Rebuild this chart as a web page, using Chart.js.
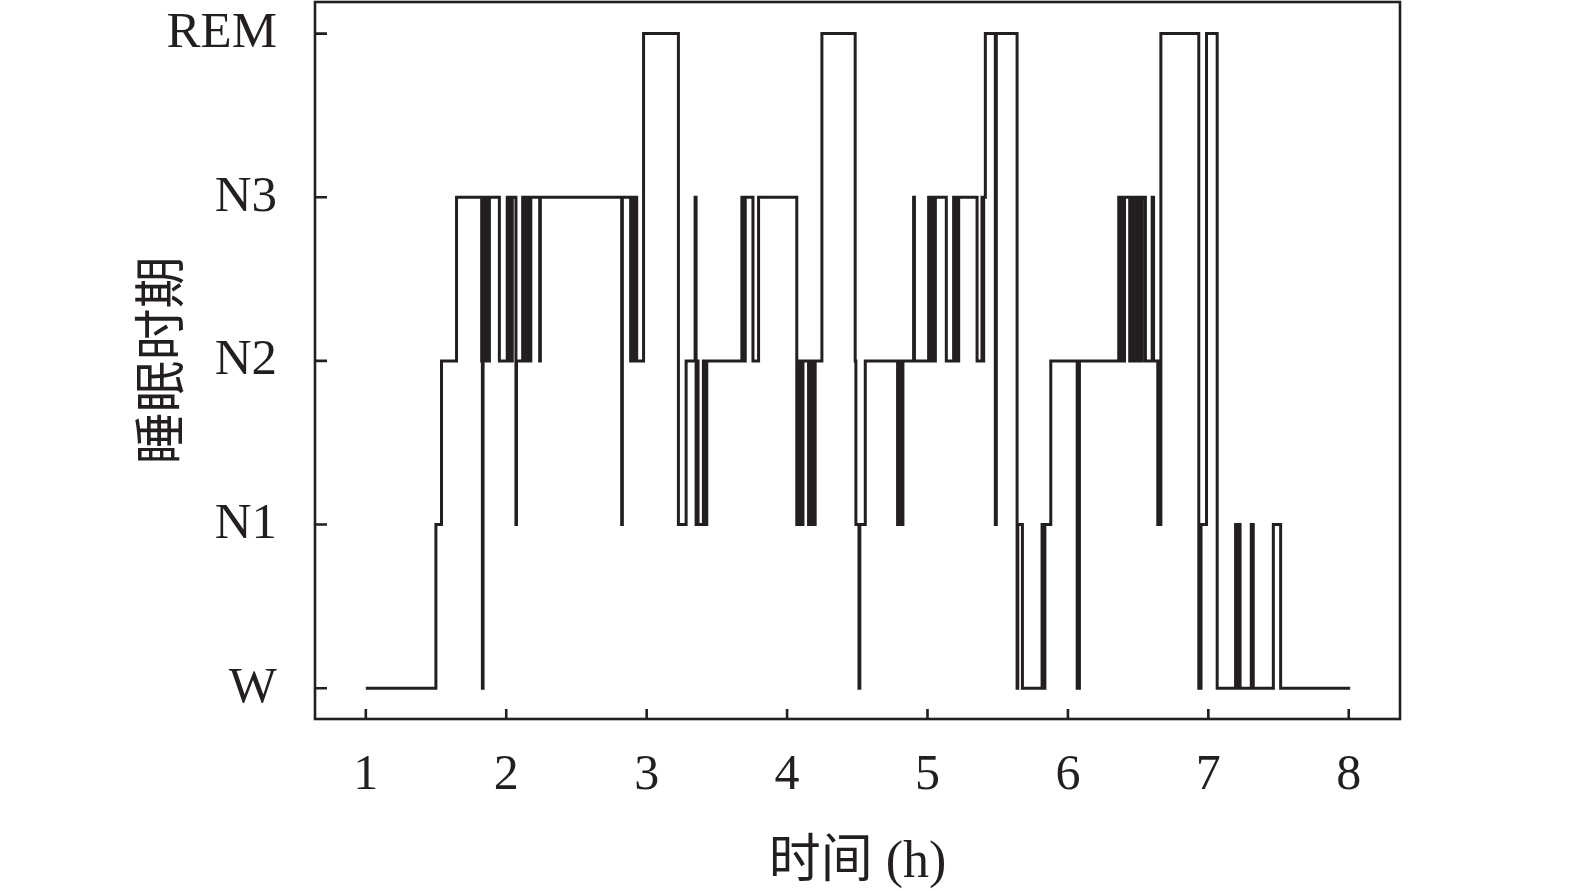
<!DOCTYPE html>
<html>
<head>
<meta charset="utf-8">
<script src="https://cdn.jsdelivr.net/npm/chart.js@4.4.1/dist/chart.umd.min.js"></script>
<style>
  html, body { margin: 0; padding: 0; background: #fff; }
  #wrap { width: 1575px; height: 891px; position: relative; }
</style>
</head>
<body>
<div id="wrap"><canvas id="hypno"></canvas></div>
<script>
// stage codes: 0 = W, 1 = N1, 2 = N2, 3 = N3, 4 = REM
const stageLabels = ['W', 'N1', 'N2', 'N3', 'REM']
const xTicks = [1, 2, 3, 4, 5, 6, 7, 8]

// time (h) at which each stage starts
const stageTimes = [
  1.000, 1.499, 1.539, 1.646, 1.825, 1.830, 1.835, 1.841, 1.847, 1.853,
  1.859, 1.865, 1.871, 1.877, 1.880, 1.951, 2.007, 2.013, 2.019, 2.025,
  2.031, 2.037, 2.043, 2.069, 2.073, 2.117, 2.123, 2.129, 2.135, 2.141,
  2.147, 2.153, 2.159, 2.165, 2.171, 2.175, 2.238, 2.243, 2.822, 2.827,
  2.886, 2.892, 2.898, 2.904, 2.910, 2.916, 2.929, 2.978, 3.226, 3.281,
  3.345, 3.352, 3.360, 3.366, 3.404, 3.410, 3.416, 3.422, 3.428, 3.678,
  3.684, 3.690, 3.696, 3.702, 3.757, 3.797, 4.069, 4.076, 4.082, 4.088,
  4.094, 4.100, 4.106, 4.113, 4.153, 4.160, 4.166, 4.172, 4.178, 4.186,
  4.192, 4.200, 4.248, 4.485, 4.490, 4.512, 4.518, 4.557, 4.787, 4.793,
  4.799, 4.805, 4.811, 4.825, 4.901, 4.907, 5.008, 5.014, 5.020, 5.026,
  5.032, 5.038, 5.044, 5.050, 5.056, 5.134, 5.186, 5.192, 5.198, 5.204,
  5.210, 5.216, 5.222, 5.353, 5.388, 5.394, 5.400, 5.412, 5.483, 5.490,
  5.638, 5.643, 5.676, 5.816, 5.830, 5.836, 5.878, 6.066, 6.082, 6.362,
  6.367, 6.373, 6.379, 6.385, 6.398, 6.403, 6.440, 6.446, 6.452, 6.458,
  6.464, 6.470, 6.476, 6.482, 6.488, 6.494, 6.500, 6.506, 6.512, 6.518,
  6.524, 6.530, 6.552, 6.600, 6.610, 6.640, 6.646, 6.652, 6.662, 6.932,
  6.948, 6.987, 7.063, 7.194, 7.204, 7.210, 7.226, 7.306, 7.320, 7.463,
  7.515, 8.010
]
const stageValues = [
  0, 1, 2, 3, 2, 0, 3, 2, 3, 2,
  3, 2, 3, 2, 3, 2, 3, 2, 3, 2,
  3, 2, 3, 1, 2, 3, 2, 3, 2, 3,
  2, 3, 2, 3, 2, 3, 2, 3, 1, 3,
  2, 3, 2, 3, 2, 3, 2, 4, 1, 2,
  3, 1, 2, 1, 2, 1, 2, 1, 2, 3,
  2, 3, 2, 3, 2, 3, 1, 2, 1, 2,
  1, 2, 1, 2, 1, 2, 1, 2, 1, 2,
  1, 2, 4, 2, 1, 0, 1, 2, 1, 2,
  1, 2, 1, 2, 3, 2, 3, 2, 3, 2,
  3, 2, 3, 2, 3, 2, 3, 2, 3, 2,
  3, 2, 3, 2, 3, 2, 3, 4, 1, 4,
  0, 1, 0, 1, 0, 1, 2, 0, 2, 3,
  2, 3, 2, 3, 2, 3, 2, 3, 2, 3,
  2, 3, 2, 3, 2, 3, 2, 3, 2, 3,
  2, 3, 2, 3, 2, 1, 2, 1, 4, 0,
  1, 4, 0, 1, 0, 1, 0, 1, 0, 1,
  0, 0
]

const ink = '#231f20'
const serif = "'Liberation Serif', 'Times New Roman', 'Noto Sans CJK SC', serif"

// box round the plot and inward tick marks
const framePlugin = {
  id: 'frame',
  afterDraw(chart) {
    const { ctx, chartArea: a, scales: { x, y } } = chart
    ctx.save()
    ctx.strokeStyle = ink
    ctx.lineWidth = 2.6
    ctx.strokeRect(a.left, a.top, a.right - a.left, a.bottom - a.top)
    ctx.beginPath()
    x.ticks.forEach(t => {
      const px = x.getPixelForValue(t.value)
      ctx.moveTo(px, a.bottom)
      ctx.lineTo(px, a.bottom - 10)
    })
    y.ticks.forEach(t => {
      const py = y.getPixelForValue(t.value)
      ctx.moveTo(a.left, py)
      ctx.lineTo(a.left + 12, py)
    })
    ctx.stroke()
    ctx.restore()
  }
}

new Chart(document.getElementById('hypno'), {
  type: 'line',
  data: {
    datasets: [{
      data: stageTimes.map((t, i) => ({ x: t, y: stageValues[i] })),
      stepped: true,
      borderColor: ink,
      borderWidth: 3,
      pointRadius: 0,
      fill: false
    }]
  },
  options: {
    responsive: true,
    maintainAspectRatio: false,
    animation: false,
    layout: { padding: { left: 0, top: 2, right: 175, bottom: 0 } },
    plugins: { legend: { display: false }, tooltip: { enabled: false } },
    scales: {
      x: {
        type: 'linear',
        min: 0.638,
        max: 8.365,
        grid: { display: false, drawTicks: false },
        border: { display: false },
        afterBuildTicks: s => { s.ticks = xTicks.map(v => ({ value: v })) },
        afterFit: s => { s.height = 172; s.paddingLeft = 0; s.paddingRight = 0 },
        ticks: {
          padding: 27,
          color: ink,
          font: { family: serif, size: 50 },
          callback: v => String(v)
        },
        title: {
          display: true,
          text: '时间 (h)',
          color: ink,
          font: { family: serif, size: 52 },
          padding: { top: 0, bottom: -4 }
        }
      },
      y: {
        type: 'linear',
        min: -0.188,
        max: 4.193,
        grid: { display: false, drawTicks: false },
        border: { display: false },
        afterBuildTicks: s => { s.ticks = stageLabels.map((_, i) => ({ value: i })) },
        afterFit: s => { s.width = 315; s.paddingTop = 0; s.paddingBottom = 0 },
        ticks: {
          padding: 38,
          color: ink,
          font: { family: serif, size: 51 },
          callback: v => stageLabels[v]
        },
        title: {
          display: true,
          text: '睡眠时期',
          color: ink,
          font: { family: serif, size: 52 },
          padding: { top: 134, bottom: 0 }
        }
      }
    }
  },
  plugins: [framePlugin]
})
</script>
</body>
</html>
